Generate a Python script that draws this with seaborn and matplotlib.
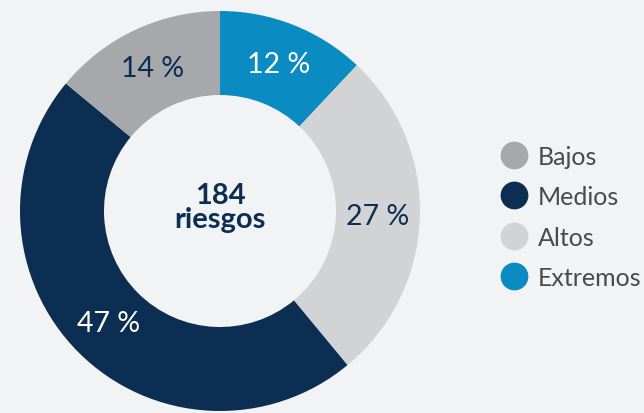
import matplotlib.pyplot as plt
import seaborn as sns
from matplotlib.lines import Line2D

# data
categories = ["Extremos", "Altos", "Medios", "Bajos"]
shares = [12, 27, 47, 14]
legend_order = ["Bajos", "Medios", "Altos", "Extremos"]
total_label = "184\nriesgos"

colors = {"Bajos": "#a7a8ac", "Medios": "#0b2e52", "Altos": "#d2d3d5", "Extremos": "#0a8bc2"}
label_colors = {"Bajos": "#0b2e52", "Medios": "white", "Altos": "#0b2e52", "Extremos": "white"}
bg = "#f2f3f5"

sns.set_style("white")
plt.rcParams['font.family'] = ['Lato', 'DejaVu Sans']

fig = plt.figure(figsize=(6.44, 4.14), dpi=100, facecolor=bg)
ax = fig.add_axes([20 / 644, 2 / 414, 400 / 644, 400 / 414])
ax.set_facecolor(bg)

wedges, texts = ax.pie(
    shares,
    colors=[colors[c] for c in categories],
    startangle=90,
    counterclock=False,
    labels=[f"{s} %" for s in shares],
    labeldistance=0.79,
    wedgeprops=dict(width=0.42, edgecolor="none"),
    textprops=dict(fontsize=20.5),
)
for t, c in zip(texts, categories):
    t.set_color(label_colors[c])
    t.set_horizontalalignment("center")
    t.set_verticalalignment("center")

ax.text(0, 0.02, total_label, ha="center", va="center", fontsize=21,
        fontweight="bold", color="#0b2e52", linespacing=0.95)
ax.set_xlim(-1, 1)
ax.set_ylim(-1, 1)
ax.set_aspect("equal")
ax.axis("off")

handles = [Line2D([], [], marker="o", linestyle="none", markersize=20,
                  markerfacecolor=colors[c], markeredgecolor="none") for c in legend_order]
fig.legend(handles, legend_order, loc="center left", bbox_to_anchor=(490 / 644, 0.474),
           frameon=False, fontsize=18, labelcolor="#4a4a4a", handlelength=1.1,
           handletextpad=0.42, labelspacing=0.7, borderaxespad=0)

fig.savefig("out.png", dpi=100, facecolor=bg)
